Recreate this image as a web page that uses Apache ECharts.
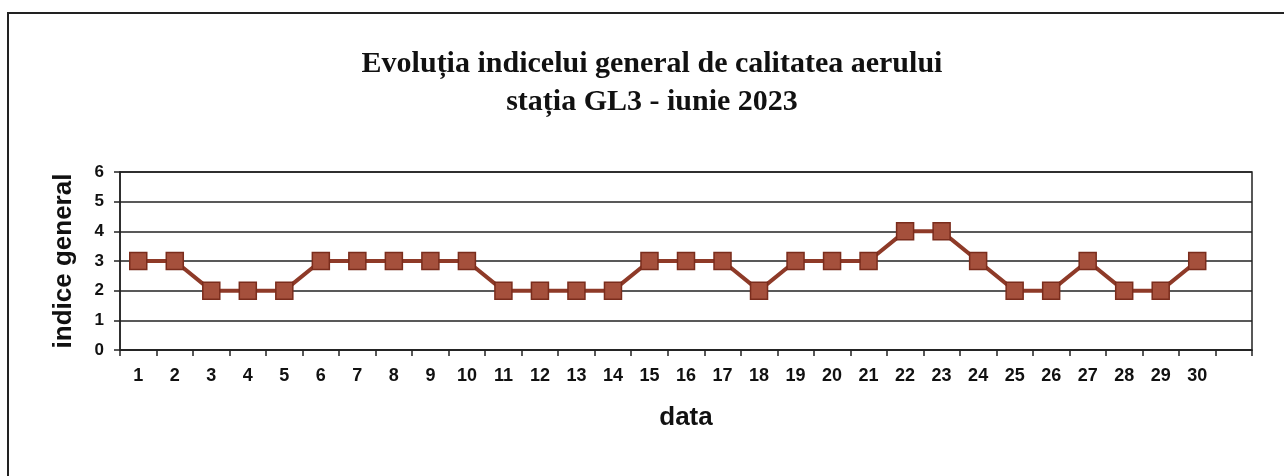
<!DOCTYPE html>
<html>
<head>
<meta charset="utf-8">
<style>
  html, body { margin: 0; padding: 0; background: #fff; }
  #chart { width: 1284px; height: 476px; }
</style>
<script src="https://cdn.jsdelivr.net/npm/echarts@6/dist/echarts.min.js"></script>
</head>
<body>
<div id="chart"></div>
<script>
// zilele lunii (ultimul slot e gol, ca în graficul original)
const days = ['1', '2', '3', '4', '5', '6', '7', '8', '9', '10',
  '11', '12', '13', '14', '15', '16', '17', '18', '19', '20',
  '21', '22', '23', '24', '25', '26', '27', '28', '29', '30', ''];
const indice = [3, 3, 2, 2, 2, 3, 3, 3, 3, 3,
  2, 2, 2, 2, 3, 3, 3, 2, 3, 3,
  3, 4, 4, 3, 2, 2, 3, 2, 2, 3, null];
const yTicks = [0, 1, 2, 3, 4, 5, 6];

const chart = echarts.init(document.getElementById('chart'));
chart.setOption({
  animation: false,
  backgroundColor: '#fff',
  title: {
    text: 'Evoluția indicelui general de calitatea aerului\nstația GL3 - iunie 2023',
    left: 647,
    top: 40,
    textAlign: 'center',
    textStyle: {
      fontFamily: 'Liberation Serif',
      fontWeight: 'bold',
      fontSize: 30,
      lineHeight: 38,
      color: '#111',
    },
  },
  graphic: [
    {
      type: 'rect',
      shape: { x: 8, y: 13, width: 1300, height: 500 },
      style: { fill: 'none', stroke: '#222', lineWidth: 2 },
      silent: true,
    },
  ],
  grid: {
    left: 120,
    right: 32,
    top: 172,
    bottom: 126,
    show: true,
    borderColor: '#222',
    borderWidth: 1.5,
  },
  xAxis: {
    type: 'category',
    data: days,
    boundaryGap: true,
    name: 'data',
    nameLocation: 'middle',
    nameGap: 55,
    nameTextStyle: { fontFamily: 'Liberation Sans', fontWeight: 'bold', fontSize: 26, color: '#111' },
    axisLine: { lineStyle: { color: '#222', width: 1.5 } },
    axisTick: { show: true, length: 6, lineStyle: { color: '#222', width: 1.5 } },
    axisLabel: {
      interval: 0,
      margin: 17,
      fontFamily: 'Liberation Sans',
      fontWeight: 'bold',
      fontSize: 18,
      color: '#111',
    },
  },
  yAxis: {
    type: 'value',
    min: yTicks[0],
    max: yTicks[yTicks.length - 1],
    interval: 1,
    name: 'indice general',
    nameLocation: 'middle',
    nameGap: 43,
    nameRotate: 90,
    nameTextStyle: { fontFamily: 'Liberation Sans', fontWeight: 'bold', fontSize: 26, color: '#111' },
    axisLine: { show: true, lineStyle: { color: '#222', width: 1.5 } },
    axisTick: { show: true, length: 6, lineStyle: { color: '#222', width: 1.5 } },
    axisLabel: {
      margin: 16,
      fontFamily: 'Liberation Sans',
      fontWeight: 'bold',
      fontSize: 17,
      color: '#111',
    },
    splitLine: { show: true, lineStyle: { color: '#222', width: 1.5 } },
  },
  series: [
    {
      name: 'indice general',
      type: 'line',
      data: indice,
      symbol: 'rect',
      symbolSize: 17,
      lineStyle: { color: '#8e3a28', width: 4 },
      itemStyle: { color: '#a5503c', borderColor: '#7a2c1c', borderWidth: 1.5 },
    },
  ],
});
</script>
</body>
</html>
